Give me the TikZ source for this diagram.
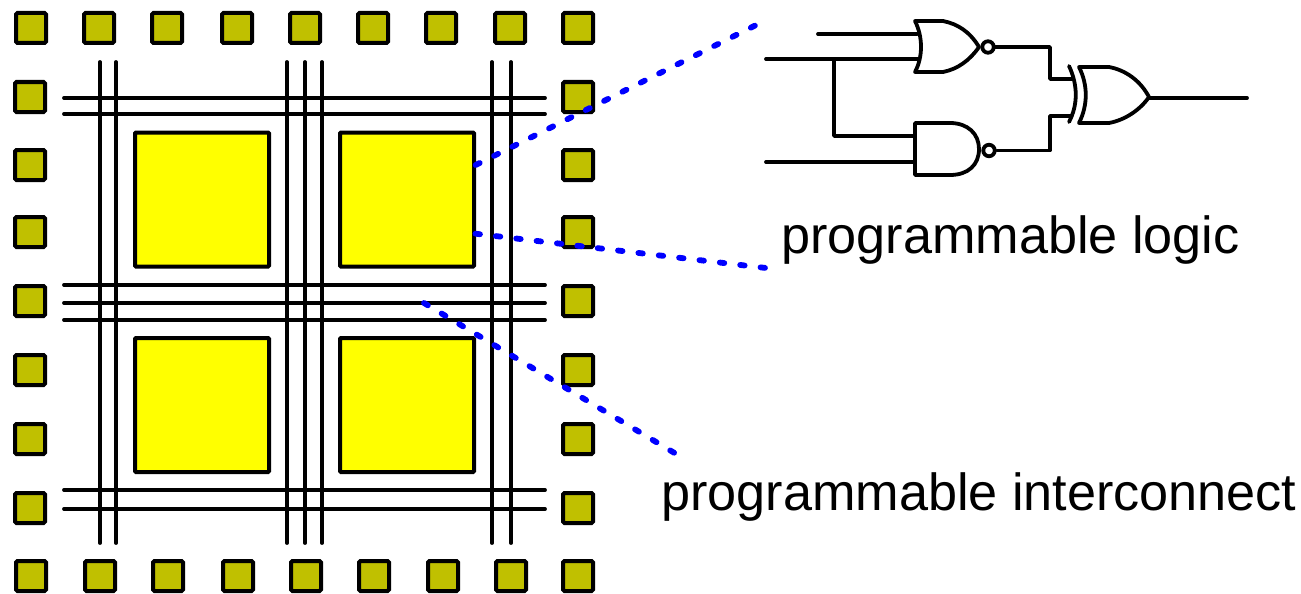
\documentclass[tikz,border=0pt]{standalone}
\usepackage{fontspec}
\setmainfont{Liberation Sans}
\usetikzlibrary{positioning}
\definecolor{padolive}{RGB}{192,192,0}
\definecolor{blockyellow}{RGB}{255,255,0}
\definecolor{leaderblue}{RGB}{0,0,255}
\tikzset{
    pad/.style={rectangle, draw=black, fill=padolive, line width=4pt, rounded corners=1.5pt, minimum size=30pt, inner sep=0pt},
    block/.style={rectangle, draw=black, fill=blockyellow, line width=4pt, rounded corners=1pt, minimum width=134pt, minimum height=134pt, inner sep=0pt},
    bubble/.style={circle, draw=black, fill=white, line width=3.8pt, minimum size=11.5pt, inner sep=0pt},
    bus/.style={draw=black, line width=3.8pt, line cap=round},
    wire/.style={draw=black, line width=3.8pt, line cap=round, line join=round},
    gate/.style={draw=black, line width=3.8pt, line join=round, line cap=round},
    leader/.style={draw=leaderblue, line width=5.8pt, line cap=round, dash pattern=on 4.5pt off 16pt},
    caption/.style={inner sep=0pt, anchor=base west, font=\fontsize{52.2}{60}\selectfont},
}
\begin{document}
\begin{tikzpicture}[x=1pt, y=-1pt]
        \useasboundingbox (0,0) rectangle (1301,594);
        % interconnect
        \foreach \x [count=\i] in {100,116,287,305,322,492,511} {
            \coordinate (vt\i) at (\x,62);
            \coordinate (vb\i) at (\x,543);
            \draw[bus] (vt\i) -- (vb\i);
        }
        \foreach \y [count=\i] in {98,114,285,303,320,490,509} {
            \coordinate (hl\i) at (64,\y);
            \coordinate (hr\i) at (545,\y);
            \draw[bus] (hl\i) -- (hr\i);
        }
        % logic blocks
        \node [block] (blocka) at (202,199.5) {};
        \node [block] (blockb) at (407,199.5) {};
        \node [block] (blockc) at (202,405) {};
        \node [block] (blockd) at (407,405) {};
        % io pads
        \foreach \x [count=\i] in {31,99,167,237,305,373,441,510,578} {
            \node [pad] (padt\i) at (\x,28) {};
        }
        \foreach \x [count=\i] in {31,100,168,238,306,374,443,511,578} {
            \node [pad] (padb\i) at (\x,576) {};
        }
        \foreach \y [count=\i] in {97,165,232,301,370,439,508} {
            \node [pad] (padl\i) at (30,\y) {};
            \node [pad] (padr\i) at (578,\y) {};
        }
        % gates
        \draw[gate] (915,21) -- (943,21) .. controls (958,24) and (970,32) .. (979,47)
            .. controls (970,60) and (958,69) .. (943,72) -- (915,72)
            .. controls (923,57) and (923,37) .. (915,21) -- cycle;
        \node [bubble] (norout) at (988,47) {};
        \draw[gate] (915,123) -- (950,123) .. controls (968,123) and (979,134) .. (979,149)
            .. controls (979,165) and (968,175) .. (950,175) -- (915,175) -- cycle;
        \node [bubble] (nandout) at (989,150.5) {};
        \draw[gate] (1079,67) -- (1109,67) .. controls (1125,70) and (1140,80) .. (1149,97)
            .. controls (1140,110) and (1125,120) .. (1109,123) -- (1079,123)
            .. controls (1088,105) and (1088,85) .. (1079,67) -- cycle;
        \draw[gate] (1069,66) .. controls (1078,85) and (1078,105) .. (1069,122);
        % wires
        \coordinate (ina) at (818,34);
        \coordinate (inaend) at (917,34);
        \coordinate (inb) at (766,59);
        \coordinate (inbend) at (918,59);
        \coordinate (inc) at (766,162);
        \coordinate (incend) at (915,162);
        \coordinate (tap) at (834,59);
        \coordinate (tapend) at (915,136);
        \coordinate (xora) at (1072,79);
        \coordinate (xorb) at (1071,116);
        \coordinate (xorout) at (1149,98);
        \coordinate (result) at (1247,98);
        \draw[wire] (ina) -- (inaend);
        \draw[wire] (inb) -- (inbend);
        \draw[wire] (inc) -- (incend);
        \draw[wire] (tap) |- (tapend);
        \draw[wire] (norout) -- (1050,47) |- (xora);
        \draw[wire] (nandout) -- (1050,150.5) |- (xorb);
        \draw[wire] (xorout) -- (result);
        % labels
        \node [caption] (logiclabel) at (781,253) {programmable logic};
        \node [caption] (wirelabel) at (661,510) {programmable interconnect};
        % leaders
        \coordinate (logicup) at (475.7,165);
        \coordinate (logicupend) at (755,25.6);
        \coordinate (logicdown) at (475.5,233.7);
        \coordinate (logicdownend) at (766,268);
        \coordinate (wirestart) at (424,303);
        \coordinate (wireend) at (674.5,453);
        \draw[leader] (logicup) -- (logicupend);
        \draw[leader] (logicdown) -- (logicdownend);
        \draw[leader] (wirestart) -- (wireend);
    \end{tikzpicture}
\end{document}
